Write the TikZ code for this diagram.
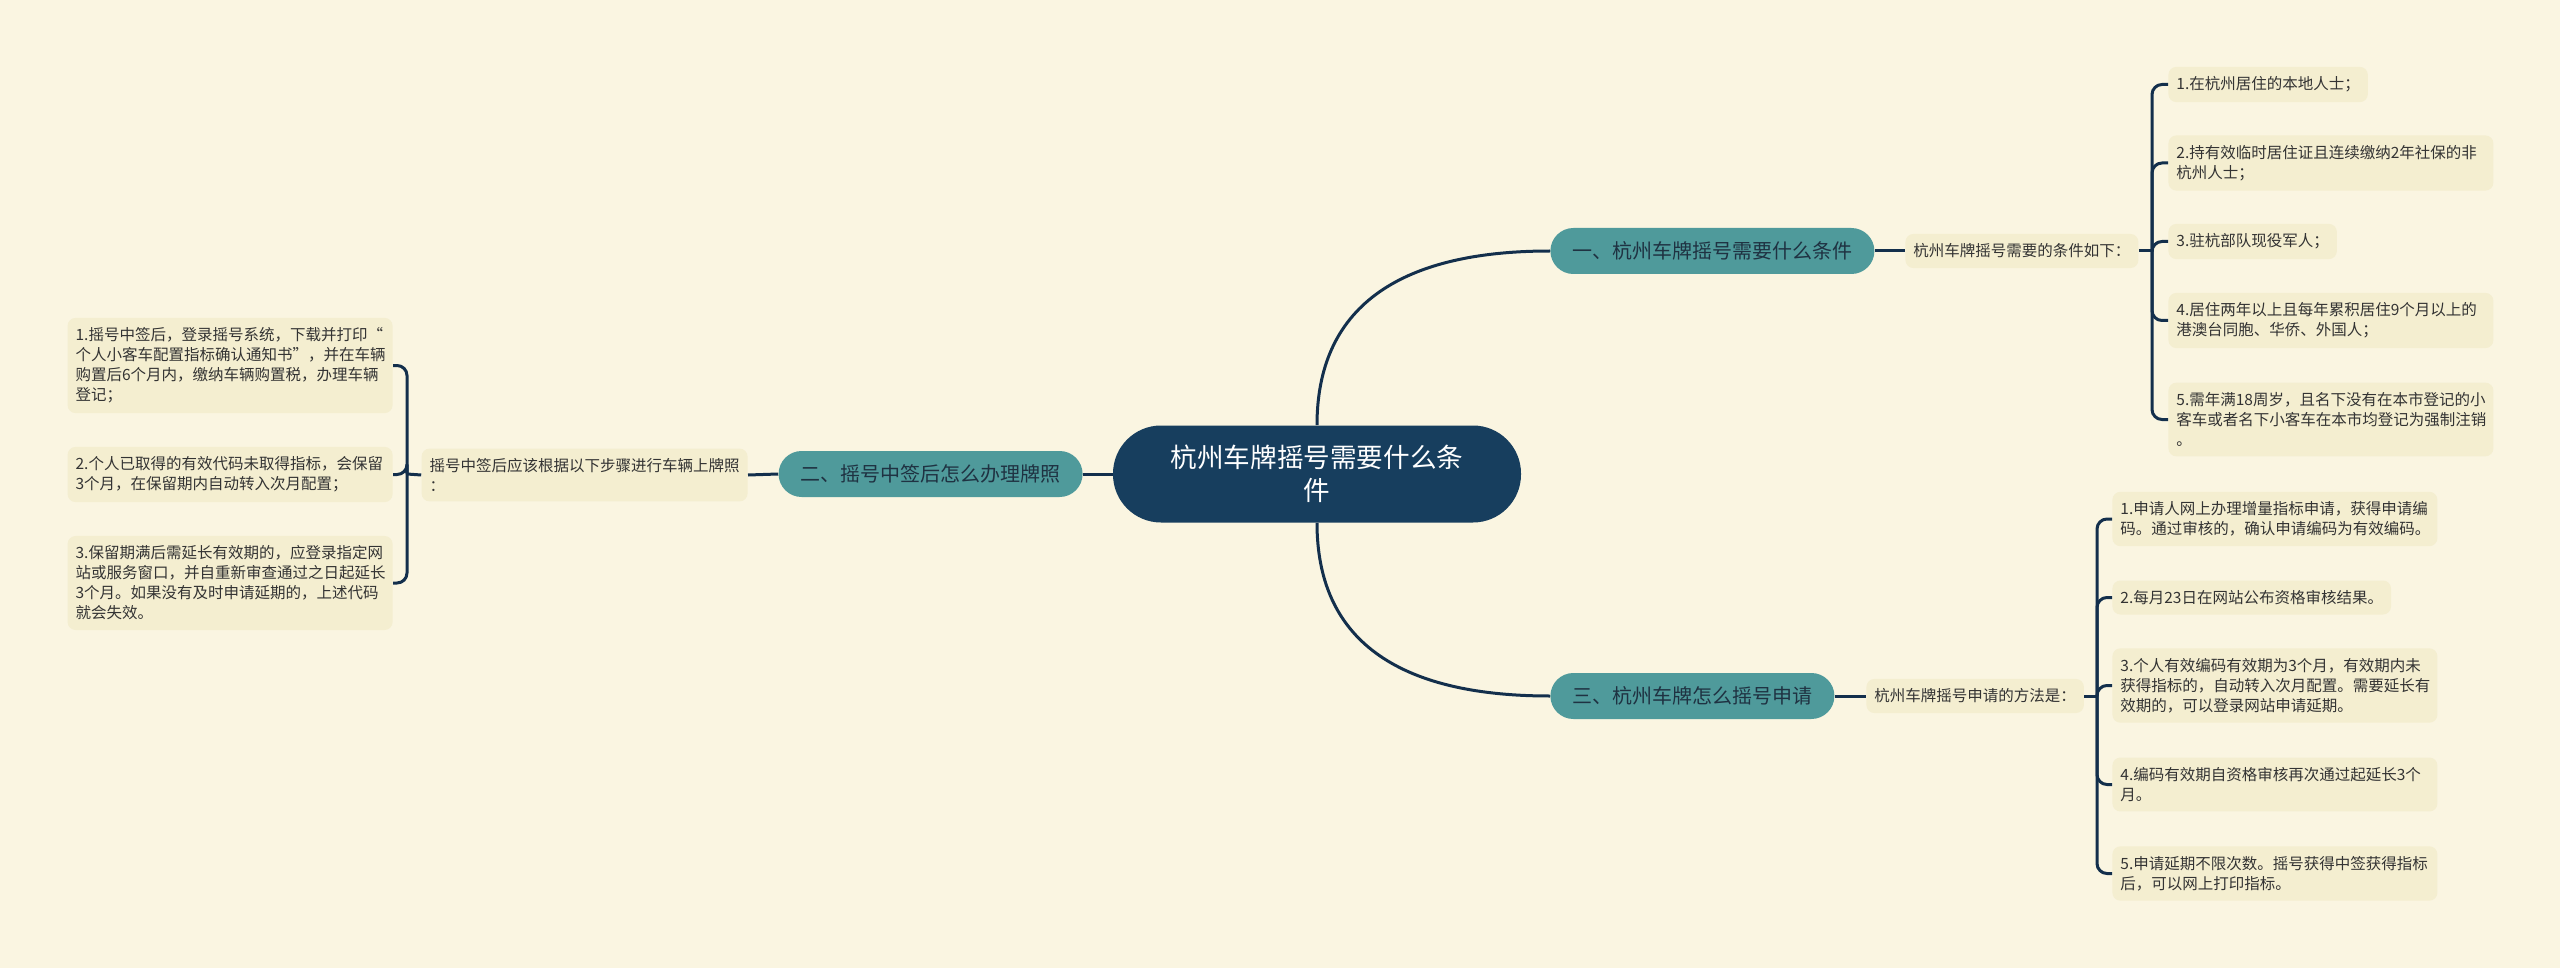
\documentclass[tikz,border=0pt]{standalone}
\usepackage{fontspec}
\setmainfont{Noto Sans CJK SC}
\definecolor{bgc}{HTML}{FAF5E1}
\definecolor{leafc}{HTML}{F4EED0}
\definecolor{rootc}{HTML}{173E5E}
\definecolor{tealc}{HTML}{4F9A9B}
\definecolor{tealtext}{HTML}{1F3242}
\definecolor{textc}{HTML}{333333}
\definecolor{linec}{HTML}{132F4C}
\tikzset{
  root/.style={fill=rootc, text=white, rounded corners=24pt, minimum width=204pt, minimum height=48.5pt, align=center, inner sep=0pt, font=\fontsize{13.3}{16.5}\selectfont},
  branch/.style={fill=tealc, text=tealtext, rounded corners=11.5pt, minimum height=23pt, inner xsep=11pt, inner ysep=0pt, font=\fontsize{10}{12}\selectfont},
  infobox/.style={fill=leafc, text=textc, rounded corners=4pt, inner xsep=4pt, inner ysep=4.9pt, align=left, font=\fontsize{7.75}{10}\selectfont},
  widebox/.style={infobox, text width=154.5pt},
  link/.style={draw=linec, line width=1.5pt},
  brace/.style={draw=linec, line width=1.5pt, rounded corners=5pt}
}
\begin{document}
\begin{tikzpicture}[x=0.5pt,y=-0.5pt]
\fill[bgc] (0,0) rectangle (2560,968);
\useasboundingbox (0,0) rectangle (2560,968);

% root
\node[root] (root) at (1317,474) {杭州车牌摇号需要什么条\\件};

% branches
\node[branch, anchor=west] (b1) at (1550,251) {一、杭州车牌摇号需要什么条件};
\node[branch, anchor=east] (b2) at (1083,474) {二、摇号中签后怎么办理牌照};
\node[branch, anchor=west] (b3) at (1550,696) {三、杭州车牌怎么摇号申请};

% sub nodes
\node[infobox, anchor=west] (s1) at (1905,251) {杭州车牌摇号需要的条件如下：};
\node[infobox, anchor=east] (s2) at (748,475) {摇号中签后应该根据以下步骤进行车辆上牌照\\：};
\node[infobox, anchor=west] (s3) at (1866,696) {杭州车牌摇号申请的方法是：};

% bracket points
\coordinate (k1) at (2152,251);
\coordinate (k2) at (407,474);
\coordinate (k3) at (2097,696);

% leaves of branch 1
\node[infobox, anchor=west] (r11) at (2168,84.5) {1.在杭州居住的本地人士；};
\node[widebox, anchor=west] (r12) at (2168,163) {2.持有效临时居住证且连续缴纳2年社保的非\\杭州人士；};
\node[infobox, anchor=west] (r13) at (2168,241.5) {3.驻杭部队现役军人；};
\node[widebox, anchor=west] (r14) at (2168,320.5) {4.居住两年以上且每年累积居住9个月以上的\\港澳台同胞、华侨、外国人；};
\node[widebox, anchor=west] (r15) at (2168,419.5) {5.需年满18周岁，且名下没有在本市登记的小\\客车或者名下小客车在本市均登记为强制注销\\。};

% leaves of branch 3
\node[widebox, anchor=west] (r31) at (2112,519) {1.申请人网上办理增量指标申请，获得申请编\\码。通过审核的，确认申请编码为有效编码。};
\node[infobox, anchor=west] (r32) at (2112,597.5) {2.每月23日在网站公布资格审核结果。};
\node[widebox, anchor=west] (r33) at (2112,685.5) {3.个人有效编码有效期为3个月，有效期内未\\获得指标的，自动转入次月配置。需要延长有\\效期的，可以登录网站申请延期。};
\node[widebox, anchor=west] (r34) at (2112,784.5) {4.编码有效期自资格审核再次通过起延长3个\\月。};
\node[widebox, anchor=west] (r35) at (2112,873.5) {5.申请延期不限次数。摇号获得中签获得指标\\后，可以网上打印指标。};

% leaves of branch 2
\node[widebox, anchor=east] (l1) at (393,365.5) {1.摇号中签后，登录摇号系统，下载并打印“\\个人小客车配置指标确认通知书”，并在车辆\\购置后6个月内，缴纳车辆购置税，办理车辆\\登记；};
\node[widebox, anchor=east] (l2) at (393,474.5) {2.个人已取得的有效代码未取得指标，会保留\\3个月，在保留期内自动转入次月配置；};
\node[widebox, anchor=east] (l3) at (393,583) {3.保留期满后需延长有效期的，应登录指定网\\站或服务窗口，并自重新审查通过之日起延长\\3个月。如果没有及时申请延期的，上述代码\\就会失效。};

% connectors root -> branches
\draw[link] (root.north) .. controls +(0,-116) and +(-154,0) .. (b1.west);
\draw[link] (root.south) .. controls +(0,116) and +(-154,0) .. (b3.west);
\draw[link] (root.west) -- (b2.east);

% branches -> sub nodes
\draw[link] (b1.east) -- (s1.west);
\draw[link] (b3.east) -- (s3.west);
\draw[link] (b2.west) -- (s2.east);
\draw[link] (s1.east) -- (k1);
\draw[link] (s3.east) -- (k3);
\draw[link] (s2.west) -- (k2);

% brackets
\foreach \n in {r11,r12,r13,r14,r15} \draw[brace] (k1) |- (\n.west);
\foreach \n in {r31,r32,r33,r34,r35} \draw[brace] (k3) |- (\n.west);
\foreach \n in {l1,l2,l3} \draw[brace] (k2) |- (\n.east);
\end{tikzpicture}
\end{document}
